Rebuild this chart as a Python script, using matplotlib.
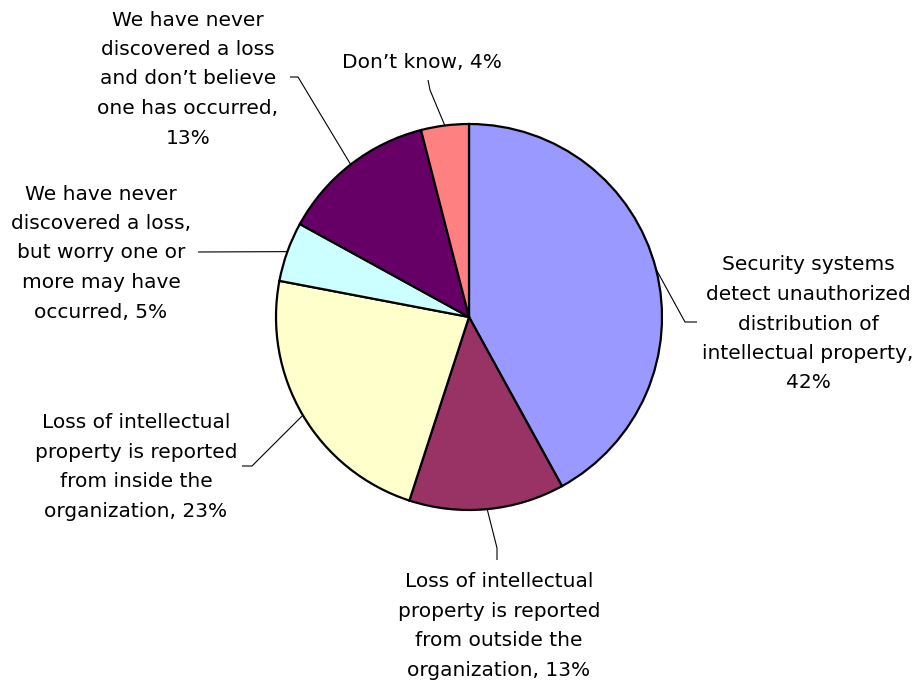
import numpy as np
import matplotlib
matplotlib.use("Agg")
import matplotlib.pyplot as plt

# Survey responses: how intellectual property losses are detected
categories = [
    "Security systems\ndetect unauthorized\ndistribution of\nintellectual property,",
    "Loss of intellectual\nproperty is reported\nfrom outside the\norganization,",
    "Loss of intellectual\nproperty is reported\nfrom inside the\norganization,",
    "We have never\ndiscovered a loss,\nbut worry one or\nmore may have\noccurred,",
    "We have never\ndiscovered a loss\nand don\u2019t believe\none has occurred,",
    "Don\u2019t know,",
]
values = [42, 13, 23, 5, 13, 4]
colors = ["#9999FF", "#993366", "#FFFFCC", "#CCFFFF", "#660066", "#FF8080"]
# whether the percentage goes on its own line
pct_own_line = [True, False, False, False, True, False]

W, H = 916, 686
fig = plt.figure(figsize=(W / 100, H / 100), dpi=100)
ax = fig.add_axes([0, 0, 1, 1])


def py(y):
    """Convert a top-down pixel row into axes y."""
    return H - y


cx, cy, r = 469, py(317), 193
wedges, _ = ax.pie(values, colors=colors, startangle=90, counterclock=False,
                   center=(cx, cy), radius=r, frame=True,
                   wedgeprops=dict(edgecolor="black", linewidth=1.6))
ax.set_xlim(0, W)
ax.set_ylim(0, H)
ax.set_aspect("equal")
ax.axis("off")

# label block centre and elbow/end points of each leader line (pixel rows)
label_pos = [(808, 324), (499, 626), (136, 467), (101, 253), (188, 79), (422, 62)]
leaders = [
    [(685, 322), (697, 322)],
    [(497, 548), (497, 560)],
    [(252, 466), (242, 466)],
    [(198, 252)],
    [(298, 77), (290, 77)],
    [(430, 90), (428, 80)],
]

for w, cat, v, own, (lx, ly), pts in zip(wedges, categories, values, pct_own_line,
                                         label_pos, leaders):
    mid = np.deg2rad((w.theta1 + w.theta2) / 2)
    ax0, ay0 = cx + r * np.cos(mid), cy + r * np.sin(mid)
    xs = [ax0] + [p[0] for p in pts]
    ys = [ay0] + [py(p[1]) for p in pts]
    ax.plot(xs, ys, color="black", lw=0.8, solid_capstyle="butt")
    sep = "\n" if own else " "
    ax.text(lx, py(ly), f"{cat}{sep}{v}%", ha="center", va="center",
            multialignment="center", fontsize=14.5, linespacing=1.7,
            family="DejaVu Sans", color="black")

fig.savefig("out.png", dpi=100, facecolor="white")
